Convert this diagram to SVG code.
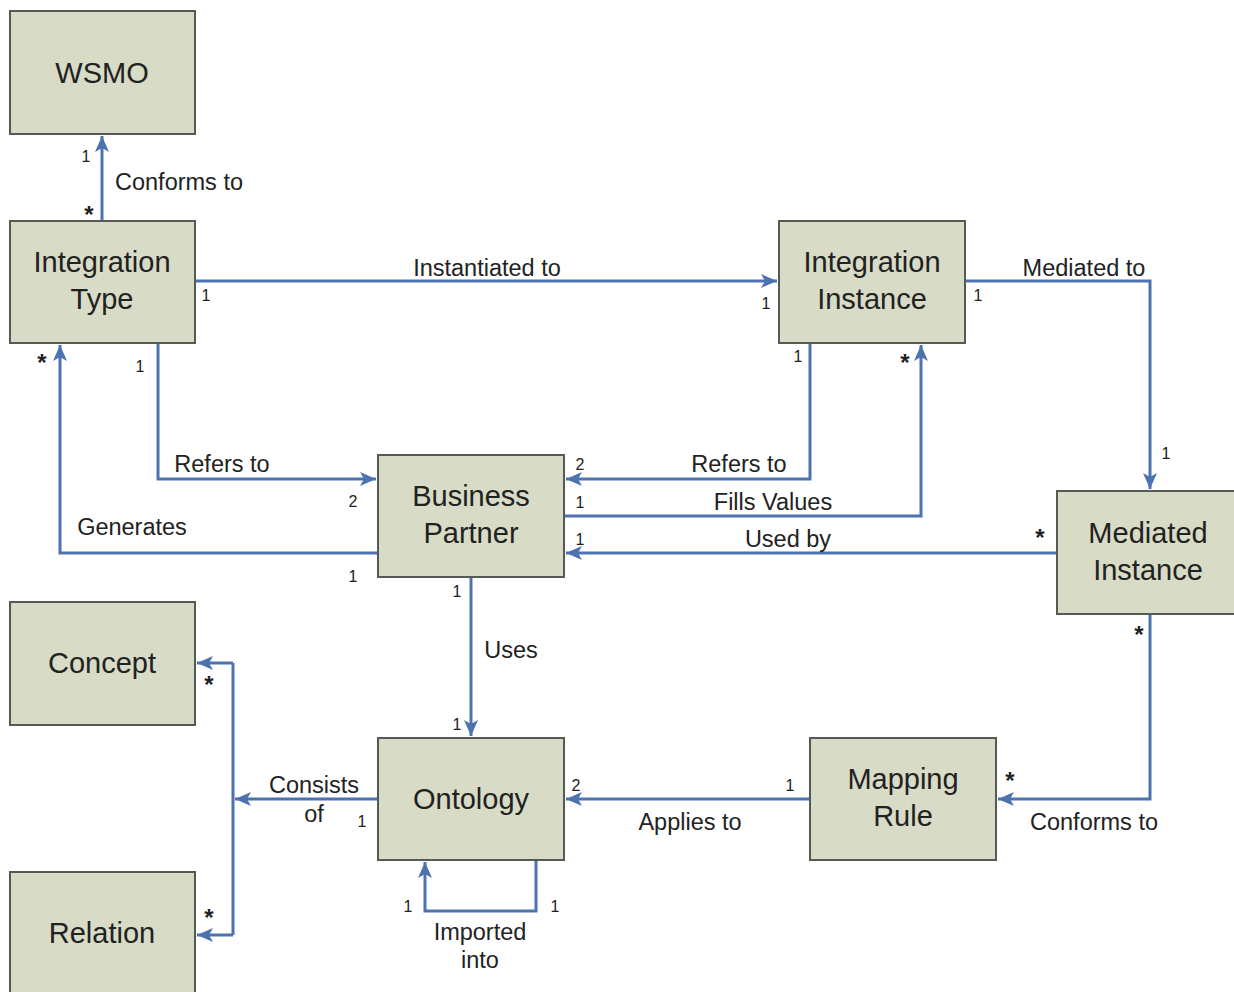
<svg xmlns="http://www.w3.org/2000/svg" width="1234" height="992" viewBox="0 0 1234 992">
<defs>
<marker id="arr" viewBox="0 0 16 14" refX="16" refY="7" markerWidth="16" markerHeight="14" markerUnits="userSpaceOnUse" orient="auto">
<path d="M0,0 L16,7 L0,14 L4,7 Z" fill="#4d72b0"/>
</marker>
<style>
.box{fill:#d8dbc5;stroke:#555a55;stroke-width:2}
.bt{font-family:"Liberation Sans",Arial,sans-serif;font-size:29px;fill:#222;text-anchor:middle}
.lbl{font-family:"Liberation Sans",Arial,sans-serif;font-size:23.5px;fill:#222;text-anchor:middle}
.m{font-family:"Liberation Sans",Arial,sans-serif;font-size:16px;fill:#222;text-anchor:middle}
.s{font-family:"Liberation Sans",Arial,sans-serif;font-size:24px;font-weight:bold;fill:#222;text-anchor:middle}
.c{fill:none;stroke:#4d72b0;stroke-width:3}
.ca{fill:none;stroke:#4d72b0;stroke-width:3;marker-end:url(#arr)}
</style>
</defs>
<rect width="1234" height="992" fill="#fff"/>
<g id="connectors">
<path class="ca" d="M102,221 V136"/>
<path class="ca" d="M195,281 H777"/>
<path class="ca" d="M965,281 H1150 V489"/>
<path class="ca" d="M158,343 V479 H376"/>
<path class="ca" d="M810,343 V479 H566"/>
<path class="ca" d="M564,516 H921 V345"/>
<path class="ca" d="M1057,553 H566"/>
<path class="ca" d="M378,553 H60 V345"/>
<path class="ca" d="M471,577 V736"/>
<path class="ca" d="M378,799 H235"/>
<path class="c" d="M233,663 V935"/>
<path class="ca" d="M233,663 H197"/>
<path class="ca" d="M233,935 H197"/>
<path class="ca" d="M810,799 H566"/>
<path class="ca" d="M1150,614 V799 H998"/>
<path class="ca" d="M536,860 V911 H425 V862"/>
</g>
<g id="wsmo"><rect class="box" x="10" y="11" width="185" height="123"/><text class="bt" x="102" y="83">WSMO</text></g>
<g id="integration-type"><rect class="box" x="10" y="221" width="185" height="122"/><text class="bt" x="102" y="272">Integration</text><text class="bt" x="102" y="309">Type</text></g>
<g id="integration-instance"><rect class="box" x="779" y="221" width="186" height="122"/><text class="bt" x="872" y="272">Integration</text><text class="bt" x="872" y="309">Instance</text></g>
<g id="business-partner"><rect class="box" x="378" y="455" width="186" height="122"/><text class="bt" x="471" y="506">Business</text><text class="bt" x="471" y="543">Partner</text></g>
<g id="mediated-instance"><rect class="box" x="1057" y="491" width="178" height="123"/><text class="bt" x="1148" y="543">Mediated</text><text class="bt" x="1148" y="580">Instance</text></g>
<g id="concept"><rect class="box" x="10" y="602" width="185" height="123"/><text class="bt" x="102" y="673">Concept</text></g>
<g id="relation"><rect class="box" x="10" y="872" width="185" height="124"/><text class="bt" x="102" y="943">Relation</text></g>
<g id="ontology"><rect class="box" x="378" y="738" width="186" height="122"/><text class="bt" x="471" y="809">Ontology</text></g>
<g id="mapping-rule"><rect class="box" x="810" y="738" width="186" height="122"/><text class="bt" x="903" y="789">Mapping</text><text class="bt" x="903" y="826">Rule</text></g>
<g id="labels">
<text class="lbl" x="115" y="190" style="text-anchor:start">Conforms to</text>
<text class="lbl" x="487" y="276">Instantiated to</text>
<text class="lbl" x="1084" y="276">Mediated to</text>
<text class="lbl" x="222" y="472">Refers to</text>
<text class="lbl" x="739" y="472">Refers to</text>
<text class="lbl" x="773" y="510">Fills Values</text>
<text class="lbl" x="788" y="547">Used by</text>
<text class="lbl" x="132" y="535">Generates</text>
<text class="lbl" x="511" y="658">Uses</text>
<text class="lbl" x="314" y="793">Consists</text>
<text class="lbl" x="314" y="822">of</text>
<text class="lbl" x="690" y="830">Applies to</text>
<text class="lbl" x="1094" y="830">Conforms to</text>
<text class="lbl" x="480" y="940">Imported</text>
<text class="lbl" x="480" y="968">into</text>
</g>
<g id="multiplicities">
<text class="m" x="86" y="162">1</text>
<text class="s" x="89" y="223">*</text>
<text class="m" x="206" y="301">1</text>
<text class="m" x="766" y="309">1</text>
<text class="m" x="978" y="301">1</text>
<text class="m" x="1166" y="459">1</text>
<text class="m" x="140" y="372">1</text>
<text class="m" x="353" y="507">2</text>
<text class="m" x="798" y="362">1</text>
<text class="m" x="580" y="470">2</text>
<text class="m" x="580" y="508">1</text>
<text class="s" x="905" y="371">*</text>
<text class="m" x="580" y="545">1</text>
<text class="s" x="1040" y="546">*</text>
<text class="s" x="42" y="371">*</text>
<text class="m" x="353" y="582">1</text>
<text class="m" x="457" y="597">1</text>
<text class="m" x="457" y="730">1</text>
<text class="m" x="362" y="827">1</text>
<text class="s" x="209" y="693">*</text>
<text class="s" x="209" y="926">*</text>
<text class="m" x="576" y="791">2</text>
<text class="m" x="790" y="791">1</text>
<text class="s" x="1139" y="643">*</text>
<text class="s" x="1010" y="789">*</text>
<text class="m" x="408" y="912">1</text>
<text class="m" x="555" y="912">1</text>
</g>
</svg>
